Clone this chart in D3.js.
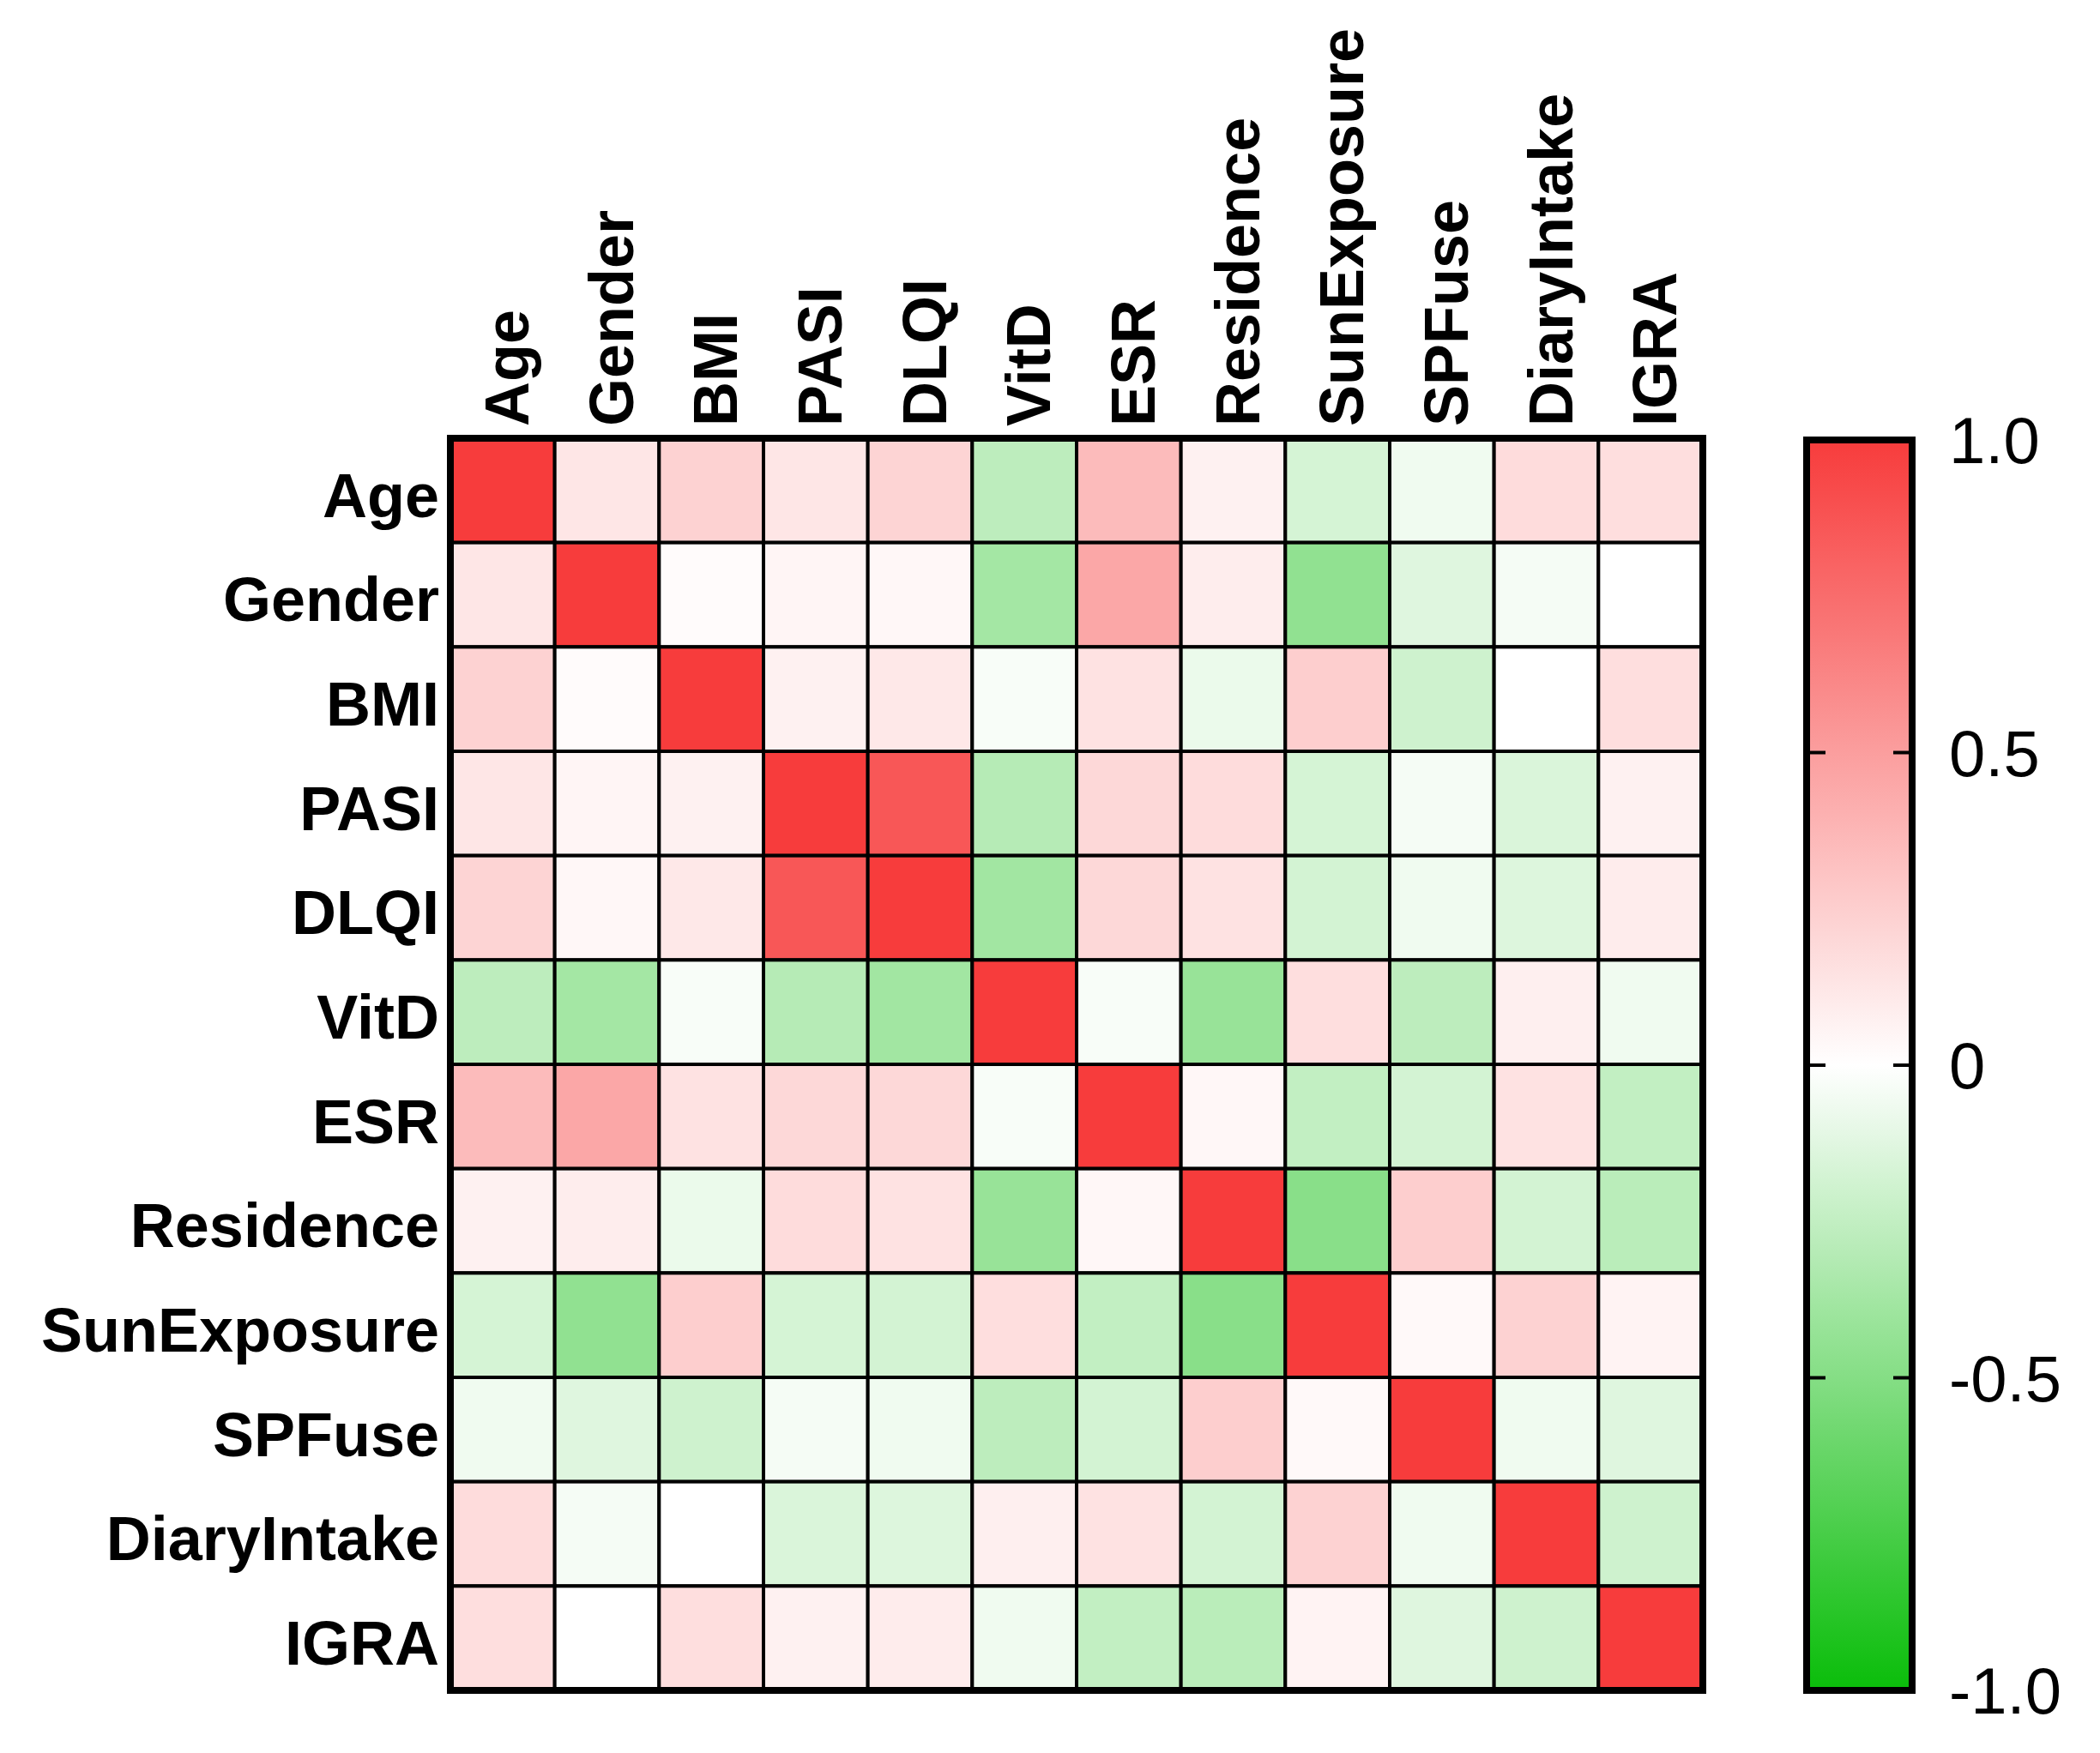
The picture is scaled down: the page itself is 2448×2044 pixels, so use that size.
<!DOCTYPE html>
<html>
<head>
<meta charset="utf-8">
<script src="https://d3js.org/d3.v7.min.js"></script>
<style>
  html, body { margin: 0; padding: 0; background: #fff; }
  svg { display: block; }
</style>
</head>
<body>
<svg id="chart" width="2448" height="2044"></svg>
<script>
// ---- Data ----
const variables = ["Age", "Gender", "BMI", "PASI", "DLQI", "VitD", "ESR", "Residence", "SunExposure", "SPFuse", "DiaryIntake", "IGRA"];
const rowAge         = [ 1.00,  0.13,  0.23,  0.13,  0.22, -0.27,  0.35,  0.07, -0.17, -0.06,  0.18,  0.17];
const rowGender      = [ 0.13,  1.00,  0.02,  0.05,  0.04, -0.37,  0.45,  0.09, -0.45, -0.13, -0.04,  0.00];
const rowBMI         = [ 0.23,  0.02,  1.00,  0.07,  0.12, -0.03,  0.15, -0.08,  0.25, -0.20,  0.00,  0.17];
const rowPASI        = [ 0.13,  0.05,  0.07,  1.00,  0.86, -0.30,  0.20,  0.18, -0.17, -0.04, -0.15,  0.07];
const rowDLQI        = [ 0.22,  0.04,  0.12,  0.86,  1.00, -0.38,  0.20,  0.15, -0.18, -0.06, -0.14,  0.10];
const rowVitD        = [-0.27, -0.37, -0.03, -0.30, -0.38,  1.00, -0.03, -0.42,  0.17, -0.27,  0.08, -0.06];
const rowESR         = [ 0.35,  0.45,  0.15,  0.20,  0.20, -0.03,  1.00,  0.04, -0.25, -0.18,  0.15, -0.25];
const rowResidence   = [ 0.07,  0.09, -0.08,  0.18,  0.15, -0.42,  0.04,  1.00, -0.48,  0.25, -0.18, -0.28];
const rowSunExposure = [-0.17, -0.45,  0.25, -0.17, -0.18,  0.17, -0.25, -0.48,  1.00,  0.03,  0.23,  0.06];
const rowSPFuse      = [-0.06, -0.13, -0.20, -0.04, -0.06, -0.27, -0.18,  0.25,  0.03,  1.00, -0.06, -0.13];
const rowDiaryIntake = [ 0.18, -0.04,  0.00, -0.15, -0.14,  0.08,  0.15, -0.18,  0.23, -0.06,  1.00, -0.20];
const rowIGRA        = [ 0.17,  0.00,  0.17,  0.07,  0.10, -0.06, -0.25, -0.28,  0.06, -0.13, -0.20,  1.00];
const matrixRows = [rowAge, rowGender, rowBMI, rowPASI, rowDLQI, rowVitD, rowESR, rowResidence, rowSunExposure, rowSPFuse, rowDiaryIntake, rowIGRA];
const colorTicks = [1.0, 0.5, 0, -0.5, -1.0];
const colorTickLabels = ["1.0", "0.5", "0", "-0.5", "-1.0"];

// ---- Layout ----
const svg = d3.select("#chart");
const FONT = "'Liberation Sans', Arial, Helvetica, sans-serif";
const mLeft = 525, mTop = 511, mSize = 1460;

const x = d3.scaleBand().domain(variables).range([mLeft, mLeft + mSize]);
const y = d3.scaleBand().domain(variables).range([mTop, mTop + mSize]);
const color = d3.scaleLinear().domain([-1, 0, 1]).range(["#0abd0a", "#ffffff", "#f73c3c"]).interpolate(d3.interpolateRgb);

const cells = [];
matrixRows.forEach((row, i) => row.forEach((v, j) => cells.push({ r: variables[i], c: variables[j], v })));

const g = svg.append("g");
g.selectAll("rect.cell").data(cells).join("rect")
  .attr("class", "cell")
  .attr("x", d => x(d.c))
  .attr("y", d => y(d.r))
  .attr("width", x.bandwidth())
  .attr("height", y.bandwidth())
  .attr("fill", d => color(d.v))
  .attr("stroke", "#000")
  .attr("stroke-width", 4);

g.append("rect")
  .attr("x", mLeft).attr("y", mTop)
  .attr("width", mSize).attr("height", mSize)
  .attr("fill", "none").attr("stroke", "#000").attr("stroke-width", 8);

// Row labels
const fs = 72;
g.selectAll("text.row").data(variables).join("text")
  .attr("class", "row")
  .attr("x", mLeft - 13)
  .attr("y", d => y(d) + y.bandwidth() / 2 + fs * 0.43)
  .attr("text-anchor", "end")
  .attr("font-family", FONT).attr("font-weight", "bold").attr("font-size", fs)
  .attr("fill", "#000")
  .text(d => d);

// Column labels
g.selectAll("text.col").data(variables).join("text")
  .attr("class", "col")
  .attr("transform", d => `translate(${x(d) + x.bandwidth() / 2 + fs * 0.42},${mTop - 14}) rotate(-90)`)
  .attr("text-anchor", "start")
  .attr("font-family", FONT).attr("font-weight", "bold").attr("font-size", fs)
  .attr("fill", "#000")
  .text(d => d);

// ---- Color bar ----
const cbX = 2106, cbW = 123, cbTop = 513, cbBottom = 1971;
const cy = d3.scaleLinear().domain([-1, 1]).range([cbBottom, cbTop]);

const defs = svg.append("defs");
const grad = defs.append("linearGradient").attr("id", "cbgrad")
  .attr("x1", 0).attr("y1", 1).attr("x2", 0).attr("y2", 0);
d3.range(-1, 1.0001, 0.1).forEach(v => {
  grad.append("stop").attr("offset", ((v + 1) / 2 * 100) + "%").attr("stop-color", color(v));
});

svg.append("rect")
  .attr("x", cbX).attr("y", cbTop)
  .attr("width", cbW).attr("height", cbBottom - cbTop)
  .attr("fill", "url(#cbgrad)")
  .attr("stroke", "#000").attr("stroke-width", 8);

const innerTicks = colorTicks.filter(v => Math.abs(v) < 1);
svg.selectAll("line.tl").data(innerTicks).join("line")
  .attr("class", "tl")
  .attr("x1", cbX).attr("x2", cbX + 22)
  .attr("y1", d => cy(d)).attr("y2", d => cy(d))
  .attr("stroke", "#000").attr("stroke-width", 4);
svg.selectAll("line.tr").data(innerTicks).join("line")
  .attr("class", "tr")
  .attr("x1", cbX + cbW - 22).attr("x2", cbX + cbW)
  .attr("y1", d => cy(d)).attr("y2", d => cy(d))
  .attr("stroke", "#000").attr("stroke-width", 4);

const tfs = 76;
svg.selectAll("text.ct").data(colorTicks).join("text")
  .attr("class", "ct")
  .attr("x", 2272)
  .attr("y", d => cy(d) + tfs * 0.36)
  .attr("font-family", FONT).attr("font-size", tfs)
  .attr("fill", "#000")
  .text((d, i) => colorTickLabels[i]);
</script>
</body>
</html>
